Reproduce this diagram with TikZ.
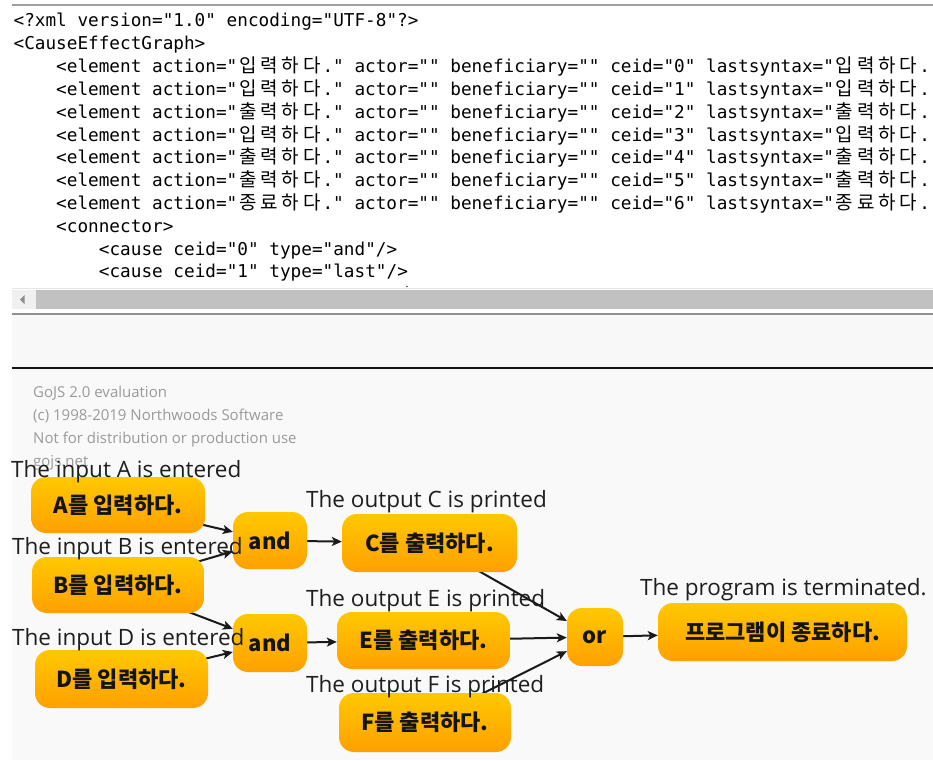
\documentclass[tikz,border=0pt]{standalone}
\usepackage{fontspec}
\usetikzlibrary{arrows.meta}
\setmainfont{Open Sans}
\newfontfamily\labelfont{Open Sans}
\newfontfamily\monofont{DejaVu Sans Mono}
\newfontfamily\krfont{Noto Sans CJK KR}

\definecolor{boxtop}{HTML}{FFC800}
\definecolor{boxbot}{HTML}{FFA000}
\definecolor{nodetext}{HTML}{141414}
\definecolor{captext}{HTML}{1E1E1E}
\definecolor{linkcol}{HTML}{1A1A1A}
\definecolor{wmgray}{HTML}{9A9A9A}
\definecolor{diagbg}{HTML}{F9F9F9}
\definecolor{bandbg}{HTML}{F8F8F8}
\definecolor{rulegray}{HTML}{A0A0A0}
\definecolor{thumbgray}{HTML}{C1C1C1}
\definecolor{btngray}{HTML}{F0F0F0}

% one double-width Hangul cell of the monospaced listing
\newcommand\kc[1]{\makebox[21.3pt]{\krfont\fontsize{19}{20}\selectfont #1}}
\newcommand\kw[4]{\kc{#1}\kc{#2}\kc{#3}\kc{#4}}
% one <element .../> line of the listing
\newcommand\elem[5]{<element action="\kw{#1}{#2}{#3}{#4}." actor="" beneficiary="" ceid="#5" lastsyntax="\kw{#1}{#2}{#3}{#4}.}

\begin{document}
\begin{tikzpicture}[x=1pt,y=-1pt,
  cebox/.style={rounded corners=15pt, top color=boxtop, bottom color=boxbot,
    draw=none, inner sep=0pt, text=nodetext,
    font=\krfont\bfseries\fontsize{22}{26}\selectfont},
  caption/.style={anchor=base west, inner sep=0pt, text=captext,
    font=\labelfont\fontsize{22.5}{26}\selectfont},
  wmark/.style={anchor=base west, inner sep=0pt, text=wmgray,
    font=\labelfont\fontsize{15}{18}\selectfont},
  xmlline/.style={anchor=base west, inner sep=0pt, text=black,
    font=\monofont\fontsize{17.7}{20}\selectfont},
  link/.style={draw=linkcol, line width=2pt,
    -{Stealth[length=10pt,width=9pt,inset=2.5pt]}},
  holder/.style={inner sep=0pt},
]
\useasboundingbox (0,0) rectangle (933,760);
\fill[white] (0,0) rectangle (933,760);

% ---- XML listing panel ----
\draw[rulegray, line width=1.6pt] (12,5) -- (933,5);
\begin{scope}
  \clip (12,7) rectangle (933,288);
  \node[xmlline] (xl0)  at (13.4,27)   {<?xml version="1.0" encoding="UTF-8"?>};
  \node[xmlline] (xl1)  at (13.4,49.8) {<CauseEffectGraph>};
  \node[xmlline] (xl2)  at (56,72.6)   {\elem{입}{력}{하}{다}{0}};
  \node[xmlline] (xl3)  at (56,95.4)   {\elem{입}{력}{하}{다}{1}};
  \node[xmlline] (xl4)  at (56,118.2)  {\elem{출}{력}{하}{다}{2}};
  \node[xmlline] (xl5)  at (56,141)    {\elem{입}{력}{하}{다}{3}};
  \node[xmlline] (xl6)  at (56,163.8)  {\elem{출}{력}{하}{다}{4}};
  \node[xmlline] (xl7)  at (56,186.6)  {\elem{출}{력}{하}{다}{5}};
  \node[xmlline] (xl8)  at (56,209.4)  {\elem{종}{료}{하}{다}{6}};
  \node[xmlline] (xl9)  at (56,232.2)  {<connector>};
  \node[xmlline] (xl10) at (98.7,255)  {<cause ceid="0" type="and"/>};
  \node[xmlline] (xl11) at (98.7,277.8){<cause ceid="1" type="last"/>};
  \fill[black!70] (407,286.5) circle (0.9);
\end{scope}

% ---- horizontal scroll bar ----
\draw[black!10, line width=0.8pt] (12,288) -- (933,288);
\fill[btngray] (12,290) rectangle (36,309);
\fill[thumbgray] (36,290) rectangle (933,309);
\fill[black!45] (20,299.5) -- (24.5,295) -- (24.5,304) -- cycle;
\draw[rulegray!90!black, line width=1.6pt] (12,314) -- (933,314);
\fill[bandbg] (12,315) rectangle (933,366.5);
\draw[black!92, line width=2.6pt] (12,368) -- (933,368);

% ---- diagram canvas ----
\fill[diagbg] (12,369.3) rectangle (933,760);
\node[wmark] (wm1) at (33,397) {GoJS 2.0 evaluation};
\node[wmark] (wm2) at (33,420) {(c) 1998-2019 Northwoods Software};
\node[wmark] (wm3) at (33,443) {Not for distribution or production use};
\node[wmark] (wm4) at (33,466) {gojs.net};

% box centres
\coordinate (cA) at (118,505);
\coordinate (cB) at (118,585);
\coordinate (cD) at (121.5,679);
\coordinate (c1) at (270,540.5);
\coordinate (c2) at (270,643);
\coordinate (cC) at (429.5,543);
\coordinate (cE) at (423.5,640.5);
\coordinate (cF) at (425,722.5);
\coordinate (cO) at (595,637);
\coordinate (cT) at (782.5,632);

% invisible outlines of the boxes, used to clip the connectors
\path node[holder, minimum width=174pt, minimum height=56pt] (nA) at (cA) {}
      node[holder, minimum width=172pt, minimum height=56pt] (nB) at (cB) {}
      node[holder, minimum width=173pt, minimum height=58pt] (nD) at (cD) {}
      node[holder, minimum width=74pt,  minimum height=57pt] (and1) at (c1) {}
      node[holder, minimum width=74pt,  minimum height=58pt] (and2) at (c2) {}
      node[holder, minimum width=175pt, minimum height=58pt] (nC) at (cC) {}
      node[holder, minimum width=173pt, minimum height=57pt] (nE) at (cE) {}
      node[holder, minimum width=172pt, minimum height=59pt] (nF) at (cF) {}
      node[holder, minimum width=56pt,  minimum height=58pt] (orN) at (cO) {}
      node[holder, minimum width=249pt, minimum height=58pt] (nT) at (cT) {};

% connectors (their start lies under the source box)
\draw[link] (nA.center) -- (and1);
\draw[link] (nB.center) -- (and1);
\draw[link] (nB.center) -- (and2);
\draw[link] (nD.center) -- (and2);
\draw[link] (and1.center) -- (nC);
\draw[link] (and2.center) -- (nE);
\draw[link] (nC.center) -- (orN);
\draw[link] (nE.center) -- (orN);
\draw[link] (nF.center) -- (orN);
\draw[link] (orN.center) -- (nT);

% the boxes themselves
\node[cebox, minimum width=174pt, minimum height=56pt] (bA) at (cA) {A를 입력하다.};
\node[cebox, minimum width=172pt, minimum height=56pt] (bB) at (cB) {B를 입력하다.};
\node[cebox, minimum width=173pt, minimum height=58pt] (bD) at (cD) {D를 입력하다.};
\node[cebox, minimum width=74pt,  minimum height=57pt] (b1) at (c1) {and};
\node[cebox, minimum width=74pt,  minimum height=58pt] (b2) at (c2) {and};
\node[cebox, minimum width=175pt, minimum height=58pt] (bC) at (cC) {C를 출력하다.};
\node[cebox, minimum width=173pt, minimum height=57pt] (bE) at (cE) {E를 출력하다.};
\node[cebox, minimum width=172pt, minimum height=59pt] (bF) at (cF) {F를 출력하다.};
\node[cebox, minimum width=56pt,  minimum height=58pt] (bO) at (cO) {or};
\node[cebox, minimum width=249pt, minimum height=58pt] (bT) at (cT) {프로그램이 종료하다.};

% captions above the boxes
\node[caption] (tA) at (11,477) {The input A is entered};
\node[caption] (tB) at (12,554) {The input B is entered};
\node[caption] (tD) at (12,645) {The input D is entered};
\node[caption] (tC) at (306,507) {The output C is printed};
\node[caption] (tE) at (306,606) {The output E is printed};
\node[caption] (tF) at (306,692) {The output F is printed};
\node[caption] (tT) at (640,595) {The program is terminated.};
\end{tikzpicture}
\end{document}
